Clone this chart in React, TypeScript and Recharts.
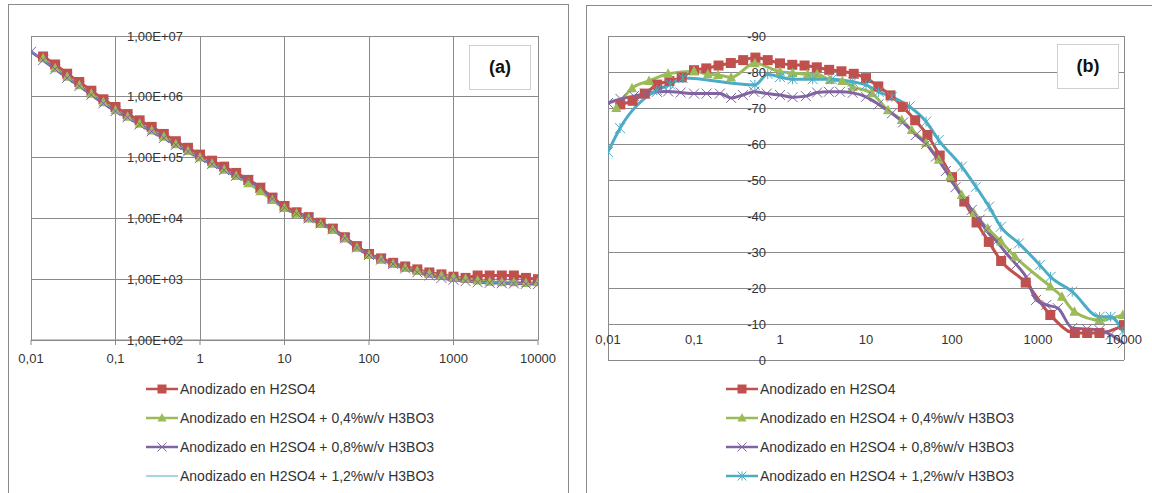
import React from 'react';
import { LineChart, Line, XAxis, YAxis, CartesianGrid, ReferenceDot, ReferenceLine } from 'recharts';

const RED = '#C0504D';
const GREEN = '#9BBB59';
const PURPLE = '#8064A2';
const CYAN = '#4BACC6';
const GRID = '#8A8A8A';
const TEXT = '#333333';
const FONT = '"Liberation Sans", Arial, sans-serif';

const seriesNames = [
  'Anodizado en H2SO4',
  'Anodizado en H2SO4 + 0,4%w/v H3BO3',
  'Anodizado en H2SO4 + 0,8%w/v H3BO3',
  'Anodizado en H2SO4 + 1,2%w/v H3BO3',
];

const freqTicks = [0.01, 0.1, 1, 10, 100, 1000, 10000];
const magTicks = [100, 1000, 10000, 100000, 1000000, 10000000];
const phaseTicks = [-90, -80, -70, -60, -50, -40, -30, -20, -10, 0];

// ---------- Panel (a): |Z| vs frequency ----------
const freqA = [0.0139, 0.0193, 0.0268, 0.0373, 0.0518, 0.072, 0.1, 0.139, 0.193, 0.268, 0.373, 0.518, 0.72, 1, 1.39, 1.93, 2.68, 3.73, 5.18, 7.2, 10, 13.9, 19.3, 26.8, 37.3, 51.8, 72, 100, 139, 193, 268, 373, 518, 720, 1000, 1390, 1930, 2680, 3730, 5180, 7200, 10000];
const freqAFull = [0.01, 0.0139, 0.0193, 0.0268, 0.0373, 0.0518, 0.072, 0.1, 0.139, 0.193, 0.268, 0.373, 0.518, 0.72, 1, 1.39, 1.93, 2.68, 3.73, 5.18, 7.2, 10, 13.9, 19.3, 26.8, 37.3, 51.8, 72, 100, 139, 193, 268, 373, 518, 720, 1000, 1390, 1930, 2680, 3730, 5180, 7200, 10000];
const magRedA = [4.6e6, 3.4e6, 2.4e6, 1.75e6, 1.26e6, 9.1e5, 6.8e5, 5.2e5, 4.1e5, 3.2e5, 2.45e5, 1.86e5, 1.45e5, 1.12e5, 8.9e4, 7.1e4, 5.6e4, 4.3e4, 3.2e4, 2.2e4, 1.6e4, 1.26e4, 1.05e4, 8.5e3, 6.8e3, 4.9e3, 3.5e3, 2.6e3, 2.2e3, 1.86e3, 1.62e3, 1.45e3, 1.29e3, 1.2e3, 1.1e3, 1.05e3, 1.15e3, 1.15e3, 1.15e3, 1.15e3, 1.05e3, 1.0e3];
const magGreenA = [4.3e6, 2.95e6, 2.14e6, 1.55e6, 1.12e6, 8.1e5, 6.0e5, 4.7e5, 3.6e5, 2.8e5, 2.2e5, 1.66e5, 1.29e5, 1.0e5, 7.9e4, 6.3e4, 5.0e4, 3.8e4, 2.8e4, 2.0e4, 1.48e4, 1.2e4, 1.0e4, 8.1e3, 6.5e3, 4.7e3, 3.3e3, 2.5e3, 2.1e3, 1.78e3, 1.55e3, 1.38e3, 1.23e3, 1.15e3, 1.07e3, 1.02e3, 950, 910, 890, 890, 870, 890];
const magPurpleA = [5.5e6, 4.0e6, 2.85e6, 2.05e6, 1.5e6, 1.08e6, 7.8e5, 5.8e5, 4.6e5, 3.5e5, 2.7e5, 2.1e5, 1.62e5, 1.26e5, 9.8e4, 7.8e4, 6.2e4, 5.0e4, 4.3e4, 3.2e4, 2.1e4, 1.5e4, 1.2e4, 1.0e4, 8.3e3, 6.6e3, 4.7e3, 3.3e3, 2.5e3, 2.1e3, 1.78e3, 1.5e3, 1.3e3, 1.15e3, 1.05e3, 980, 930, 890, 870, 860, 850, 840, 830];
const magCyanA = [5.6e6, 4.0e6, 2.9e6, 2.1e6, 1.5e6, 1.1e6, 7.9e5, 5.9e5, 4.6e5, 3.5e5, 2.7e5, 2.1e5, 1.63e5, 1.27e5, 9.9e4, 7.8e4, 6.2e4, 4.9e4, 3.9e4, 2.9e4, 2.0e4, 1.5e4, 1.2e4, 1.0e4, 8.2e3, 6.5e3, 4.7e3, 3.3e3, 2.5e3, 2.1e3, 1.78e3, 1.5e3, 1.3e3, 1.15e3, 1.05e3, 980, 930, 900, 880, 870, 860, 850, 840];

// ---------- Panel (b): phase vs frequency ----------
const freqRedB = [0.0139, 0.0193, 0.0268, 0.0373, 0.0518, 0.072, 0.1, 0.139, 0.193, 0.268, 0.373, 0.518, 0.72, 1, 1.39, 1.93, 2.68, 3.73, 5.18, 7.2, 10, 13.9, 19.3, 26.8, 37.3, 51.8, 72, 100, 139, 193, 268, 373, 720, 1390, 2680, 3730, 5180, 10000];
const phaseRedB = [-71, -72, -74, -76.5, -77.5, -78.5, -80.5, -81, -81.8, -82.5, -83.3, -84, -83.3, -82.4, -82, -81.8, -81.3, -80.6, -80.2, -79.5, -78.3, -76, -73.5, -70.3, -66.6, -62.5, -56.8, -50.8, -44, -38.2, -32.8, -27.5, -21.5, -12.5, -7.5, -7.5, -7.5, -9.7];
const freqGreenB = [0.0125, 0.019, 0.03, 0.05, 0.1, 0.145, 0.19, 0.27, 0.51, 1.0, 1.4, 2.1, 2.7, 3.8, 5.3, 7, 11.7, 18, 26, 34, 50, 70, 95, 130, 180, 260, 370, 540, 1390, 1900, 2650, 5200, 9700];
const phaseGreenB = [-70, -75.5, -77.5, -79.5, -80.2, -79.4, -79.2, -78.5, -82.4, -80.1, -79.7, -79.4, -79.4, -77.8, -77.5, -75.9, -74.1, -69.4, -66.7, -63.9, -60.3, -55.6, -51, -45.8, -40.8, -36.5, -32.9, -28.7, -20.4, -17.6, -13.4, -11.1, -12.5];
const freqPurpleB = [0.01, 0.014, 0.02, 0.027, 0.037, 0.05, 0.07, 0.1, 0.14, 0.2, 0.27, 0.37, 0.5, 0.7, 1, 1.4, 2, 2.7, 3.7, 5, 7, 10, 14, 20, 27, 38, 50, 65, 85, 110, 140, 170, 210, 250, 330, 430, 560, 730, 950, 1250, 1700, 2500, 3700, 5200, 7000, 9700];
const phasePurpleB = [-71.4, -72.5, -73.3, -74, -74.5, -74.6, -74.3, -74, -74, -74, -72.8, -73.6, -74.5, -74, -73.6, -73, -73.3, -74.3, -74.5, -74.5, -74.2, -73.1, -71, -68.5, -66, -62.5, -60, -56.5, -52.5, -48, -44.5, -41.7, -39, -36, -33, -29.6, -26.5, -23, -16.7, -15.3, -14.4, -8.9, -8.6, -8.3, -7, -4.7];
const freqCyanB = [0.01, 0.0138, 0.037, 0.053, 0.074, 0.51, 0.72, 1.0, 1.4, 2.4, 4, 7, 10, 14, 20, 32, 50, 70, 130, 190, 270, 370, 600, 1050, 1400, 2500, 5200, 7000, 9700];
const phaseCyanB = [-57.8, -64.4, -75, -76.5, -78.3, -76.4, -79.4, -78.6, -78, -78, -78, -77.3, -76.4, -74.5, -73.1, -70.4, -66.2, -61.1, -53.7, -48.1, -42.6, -37, -32.4, -26.4, -23.1, -19, -12, -12, -7.9];

const zip = (xs: number[], ys: number[]) => xs.map((f, i) => ({ f, v: ys[i] }));

const fmtFreq = (v: number) => String(v).replace('.', ',');
const fmtMag = (v: number) => {
  const e = Math.round(Math.log10(v));
  return '1,00E+' + (e < 10 ? '0' + e : String(e));
};

type ShapeKind = 'square' | 'triangle' | 'x' | 'star' | 'none';

function MarkerShape({ kind, cx, cy, size, color }: { kind: ShapeKind; cx: number; cy: number; size: number; color: string }) {
  const h = size / 2;
  if (kind === 'square') return <rect x={cx - h} y={cy - h} width={size} height={size} fill={color} />;
  if (kind === 'triangle')
    return <polygon points={`${cx},${cy - h * 1.1} ${cx - h},${cy + h * 0.8} ${cx + h},${cy + h * 0.8}`} fill={color} />;
  if (kind === 'x')
    return (
      <g stroke={color} strokeWidth={1}>
        <line x1={cx - h} y1={cy - h} x2={cx + h} y2={cy + h} />
        <line x1={cx - h} y1={cy + h} x2={cx + h} y2={cy - h} />
      </g>
    );
  if (kind === 'star')
    return (
      <g stroke={color} strokeWidth={1}>
        <line x1={cx - h} y1={cy - h} x2={cx + h} y2={cy + h} />
        <line x1={cx - h} y1={cy + h} x2={cx + h} y2={cy - h} />
        <line x1={cx} y1={cy - h} x2={cx} y2={cy + h} />
      </g>
    );
  return null;
}

const makeDot = (kind: ShapeKind, size: number, color: string) => (p: any) => (
  <g key={`m-${p.index}`}>
    {p.cx != null && p.cy != null ? <MarkerShape kind={kind} cx={p.cx} cy={p.cy} size={size} color={color} /> : null}
  </g>
);

type SeriesDef = { name: string; color: string; kind: ShapeKind; width: number; data: { f: number; v: number }[] };

const seriesA: SeriesDef[] = [
  { name: seriesNames[0], color: RED, kind: 'square', width: 3, data: zip(freqA, magRedA) },
  { name: seriesNames[1], color: GREEN, kind: 'triangle', width: 3, data: zip(freqA, magGreenA) },
  { name: seriesNames[2], color: PURPLE, kind: 'x', width: 3, data: zip(freqAFull, magPurpleA) },
  { name: seriesNames[3], color: CYAN, kind: 'none', width: 1, data: zip(freqAFull, magCyanA) },
];

const seriesB: SeriesDef[] = [
  { name: seriesNames[0], color: RED, kind: 'square', width: 3, data: zip(freqRedB, phaseRedB) },
  { name: seriesNames[1], color: GREEN, kind: 'triangle', width: 3, data: zip(freqGreenB, phaseGreenB) },
  { name: seriesNames[2], color: PURPLE, kind: 'x', width: 3, data: zip(freqPurpleB, phasePurpleB) },
  { name: seriesNames[3], color: CYAN, kind: 'star', width: 3, data: zip(freqCyanB, phaseCyanB) },
];

function LegendBox({ series, left, top }: { series: SeriesDef[]; left: number; top: number }) {
  return (
    <div style={{ position: 'absolute', left, top, fontFamily: FONT, fontSize: 14, color: TEXT }}>
      {series.map((s, i) => (
        <div key={s.name} style={{ position: 'absolute', left: 0, top: i * 29, height: 20, whiteSpace: 'nowrap', display: 'flex', alignItems: 'center' }}>
          <svg width={34} height={20} style={{ display: 'block' }}>
            <line x1={0} y1={10} x2={32} y2={10} stroke={s.color} strokeWidth={s.width === 1 ? 1 : 2.5} />
            <MarkerShape kind={s.kind} cx={16} cy={10} size={9} color={s.color} />
          </svg>
          <span>{s.name}</span>
        </div>
      ))}
    </div>
  );
}

const tagStyle = (left: number, top: number): React.CSSProperties => ({
  position: 'absolute',
  left,
  top,
  width: 60,
  height: 43,
  border: '1px solid #d0d0d0',
  display: 'flex',
  alignItems: 'center',
  justifyContent: 'center',
  fontFamily: FONT,
  fontWeight: 'bold',
  fontSize: 18,
  color: '#111',
  background: '#fff',
});

const labelStyle = { fontSize: 13, fill: TEXT, fontFamily: FONT };

function ChartA() {
  return (
    <LineChart width={575} height={493} margin={{ top: 36, left: 31, right: 37, bottom: 123 }}>
      <CartesianGrid stroke={GRID} strokeWidth={1} horizontal={false} shapeRendering="crispEdges" />
      <XAxis
        dataKey="f"
        type="number"
        scale="log"
        domain={[0.01, 10000]}
        ticks={freqTicks}
        tickFormatter={fmtFreq}
        allowDataOverflow
        height={30}
        tickSize={5}
        tickMargin={9}
        stroke={GRID}
        tick={labelStyle}
      />
      <YAxis
        dataKey="v"
        type="number"
        scale="log"
        domain={[100, 10000000]}
        ticks={magTicks}
        allowDataOverflow
        width={0}
        tick={false}
        tickLine={false}
        axisLine={false}
      />
      {magTicks.map((t) => (
        <ReferenceLine key={`ga-${t}`} y={t} stroke={GRID} strokeWidth={1} ifOverflow="visible" shapeRendering="crispEdges" />
      ))}
      {magTicks.map((t) => (
        <ReferenceDot
          key={`ya-${t}`}
          x={1}
          y={t}
          r={0}
          fill="none"
          stroke="none"
          ifOverflow="visible"
          label={{ value: fmtMag(t), position: 'left', offset: 17, ...labelStyle }}
        />
      ))}
      {seriesA.map((s) => (
        <Line
          key={s.name}
          data={s.data}
          dataKey="v"
          name={s.name}
          type="monotone"
          stroke={s.color}
          strokeWidth={s.width}
          dot={s.kind === 'none' ? false : makeDot(s.kind, 10, s.color)}
          activeDot={false}
          isAnimationActive={false}
        />
      ))}
    </LineChart>
  );
}

function ChartB() {
  return (
    <LineChart width={572} height={493} margin={{ top: 36, left: 28, right: 28, bottom: 133 }}>
      <CartesianGrid stroke={GRID} strokeWidth={1} horizontal={false} shapeRendering="crispEdges" />
      <XAxis
        dataKey="f"
        type="number"
        scale="log"
        domain={[0.01, 10000]}
        ticks={freqTicks}
        allowDataOverflow
        height={0}
        tick={false}
        tickLine={false}
        axisLine={false}
      />
      <YAxis
        dataKey="v"
        type="number"
        domain={[-90, 0]}
        reversed
        ticks={phaseTicks}
        allowDataOverflow
        width={0}
        tick={false}
        tickLine={false}
        axisLine={false}
      />
      {phaseTicks.map((t) => (
        <ReferenceLine key={`gb-${t}`} y={t} stroke={GRID} strokeWidth={1} ifOverflow="visible" shapeRendering="crispEdges" />
      ))}
      {phaseTicks.map((t) => (
        <ReferenceDot
          key={`yb-${t}`}
          x={1}
          y={t}
          r={0}
          fill="none"
          stroke="none"
          ifOverflow="visible"
          label={{ value: String(t), position: 'left', offset: 14, ...labelStyle }}
        />
      ))}
      {freqTicks.map((t) => (
        <ReferenceDot
          key={`xb-${t}`}
          x={t}
          y={-10}
          r={0}
          fill="none"
          stroke="none"
          ifOverflow="visible"
          label={{ value: fmtFreq(t), position: 'bottom', offset: 11, ...labelStyle }}
        />
      ))}
      {seriesB.map((s) => (
        <Line
          key={s.name}
          data={s.data}
          dataKey="v"
          name={s.name}
          type="monotone"
          stroke={s.color}
          strokeWidth={s.width}
          dot={makeDot(s.kind, 10, s.color)}
          activeDot={false}
          isAnimationActive={false}
        />
      ))}
    </LineChart>
  );
}

export default function App() {
  return (
    <div style={{ position: 'absolute', left: 0, top: 0, width: 1152, height: 493, background: '#fff', overflow: 'hidden' }}>
      <div style={{ position: 'absolute', left: 8, top: 4, width: 559, height: 520, border: '1px solid #8a8a8a' }} />
      <div style={{ position: 'absolute', left: 586, top: 5, width: 600, height: 520, border: '1px solid #8a8a8a' }} />
      <div style={{ position: 'absolute', left: 0, top: 0 }}>
        <ChartA />
      </div>
      <div style={{ position: 'absolute', left: 580, top: 0 }}>
        <ChartB />
      </div>
      <div style={tagStyle(469, 45)}>(a)</div>
      <div style={tagStyle(1057, 44)}>(b)</div>
      <LegendBox series={seriesA} left={146} top={379} />
      <LegendBox series={seriesB} left={726} top={379} />
    </div>
  );
}
